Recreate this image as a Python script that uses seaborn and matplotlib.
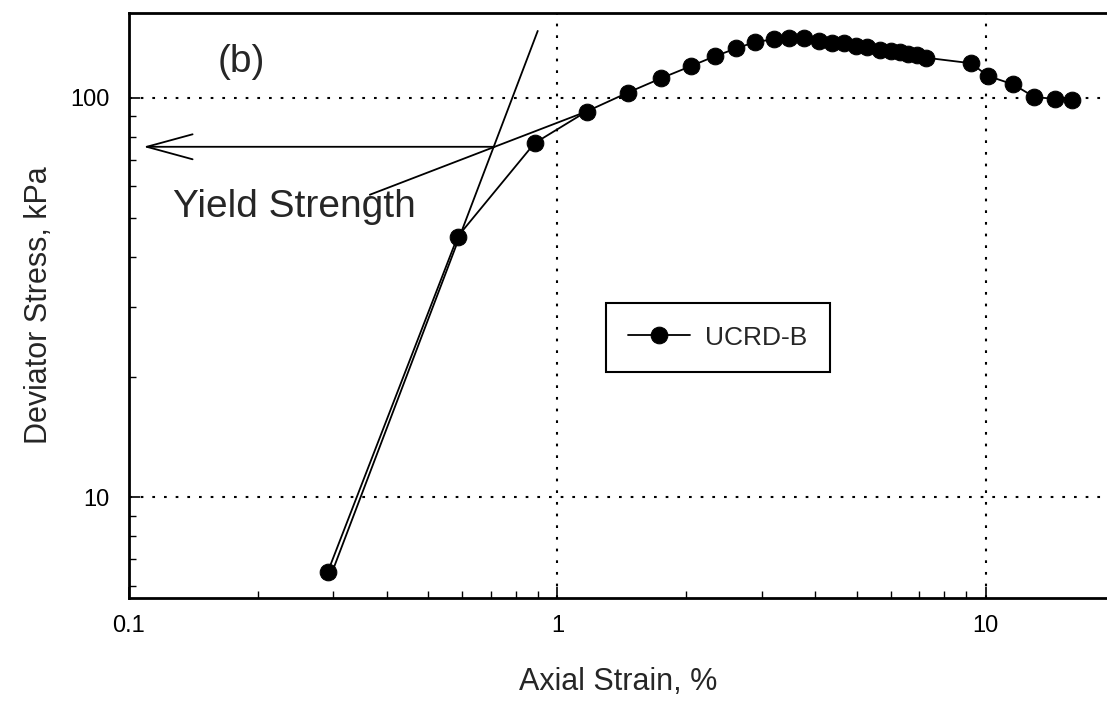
import numpy as np
import pandas as pd
import matplotlib
matplotlib.use("Agg")
import matplotlib.pyplot as plt
from matplotlib.patches import FancyArrowPatch
from matplotlib.ticker import LogLocator, NullFormatter, FixedLocator, FixedFormatter
import seaborn as sns

# Measured stress-strain curve (axial strain in %, deviator stress in kPa)
strain = [0.291, 0.585, 0.885, 1.17, 1.46, 1.75, 2.05, 2.33, 2.62, 2.90,
          3.20, 3.47, 3.76, 4.08, 4.38, 4.67, 4.97, 5.29, 5.68, 6.0,
          6.3, 6.6, 6.9, 7.24, 9.26, 10.1, 11.6, 13.0, 14.5, 15.9]
stress = [6.5, 44.9, 77.0, 92.4, 103.0, 112.0, 120.0, 127.0, 133.0, 138.0,
          140.0, 141.0, 141.0, 139.0, 137.0, 137.0, 135.0, 134.0, 132.0, 131.0,
          130.0, 129.0, 128.0, 126.0, 122.0, 113.5, 108.0, 100.4, 99.4, 98.5]
series_name = "UCRD-B"

# Construction lines used to pick the yield strength
steep_x = [0.298, 0.90]
steep_y = [6.5, 147.0]
flat_x = [0.365, 1.17]
flat_y = [57.2, 92.4]
yield_strength = 75.4
arrow_x = [0.713, 0.108]

x_ticks = [0.1, 1, 10]
x_ticklabels = ["0.1", "1", "10"]
y_ticks = [10, 100]
y_ticklabels = ["10", "100"]

sns.set_style("white")
plt.rcParams["font.family"] = ["Liberation Sans", "DejaVu Sans"]

fig = plt.figure(figsize=(11.07, 7.04), dpi=100)
ax = fig.add_axes([129 / 1107, 1 - 598 / 704, 1 - 129 / 1107, (598 - 13) / 704])

df = pd.DataFrame({"strain": strain, "stress": stress, "series": series_name})
sns.lineplot(data=df, x="strain", y="stress", hue="series", palette=["black"],
             estimator=None, sort=False, marker="o", markersize=12,
             markeredgecolor="black", linewidth=1.3, ax=ax)

ax.plot(steep_x, steep_y, color="black", linewidth=1.3)
ax.plot(flat_x, flat_y, color="black", linewidth=1.3)

ax.set_xscale("log")
ax.set_yscale("log")
ax.set_xlim(0.1, 19.2)
ax.set_ylim(5.6, 163)

arrow = FancyArrowPatch((arrow_x[0], yield_strength), (arrow_x[1], yield_strength),
                        arrowstyle="->,head_length=33,head_width=9",
                        mutation_scale=1, shrinkA=0, shrinkB=0,
                        color="black", linewidth=1.3)
ax.add_patch(arrow)

ax.text(0.091, 0.916, "(b)", transform=ax.transAxes, fontsize=28,
        ha="left", va="center")
ax.text(0.045, 0.651, "Yield Strength", transform=ax.transAxes, fontsize=28,
        ha="left", va="baseline")

# Axes, ticks and dotted grid
ax.xaxis.set_major_locator(FixedLocator(x_ticks))
ax.xaxis.set_major_formatter(FixedFormatter(x_ticklabels))
ax.yaxis.set_major_locator(FixedLocator(y_ticks))
ax.yaxis.set_major_formatter(FixedFormatter(y_ticklabels))
ax.xaxis.set_minor_locator(LogLocator(base=10, subs=np.arange(2, 10)))
ax.yaxis.set_minor_locator(LogLocator(base=10, subs=np.arange(2, 10)))
ax.xaxis.set_minor_formatter(NullFormatter())
ax.yaxis.set_minor_formatter(NullFormatter())
ax.tick_params(which="major", direction="in", length=8, width=1.2,
               labelsize=17, color="black", labelcolor="black")
ax.tick_params(axis="x", which="major", pad=12)
ax.tick_params(axis="y", which="major", pad=14)
ax.tick_params(which="minor", direction="in", length=5, width=1.0, color="black")
ax.tick_params(axis="x", which="both", bottom=True, top=False)
ax.tick_params(axis="y", which="both", left=True, right=False)
ax.grid(True, which="major", color="black", linewidth=1.5,
        linestyle=(0, (1.3, 4.3)))

for side in ["left", "bottom", "top"]:
    ax.spines[side].set_visible(True)
    ax.spines[side].set_color("black")
    ax.spines[side].set_linewidth(2.0)
ax.spines["right"].set_visible(False)

ax.set_xlabel("Axial Strain, %", fontsize=22, labelpad=22)
ax.set_ylabel("Deviator Stress, kPa", fontsize=22, labelpad=12)

leg = ax.legend(loc="upper left", bbox_to_anchor=(0.4877, 0.504),
                borderaxespad=0, fontsize=19, frameon=True, fancybox=False,
                framealpha=1, edgecolor="black", handlelength=2.35,
                handletextpad=0.57, borderpad=0.85)
leg.get_frame().set_linewidth(1.5)

fig.savefig("out.png", dpi=100, facecolor="white")
